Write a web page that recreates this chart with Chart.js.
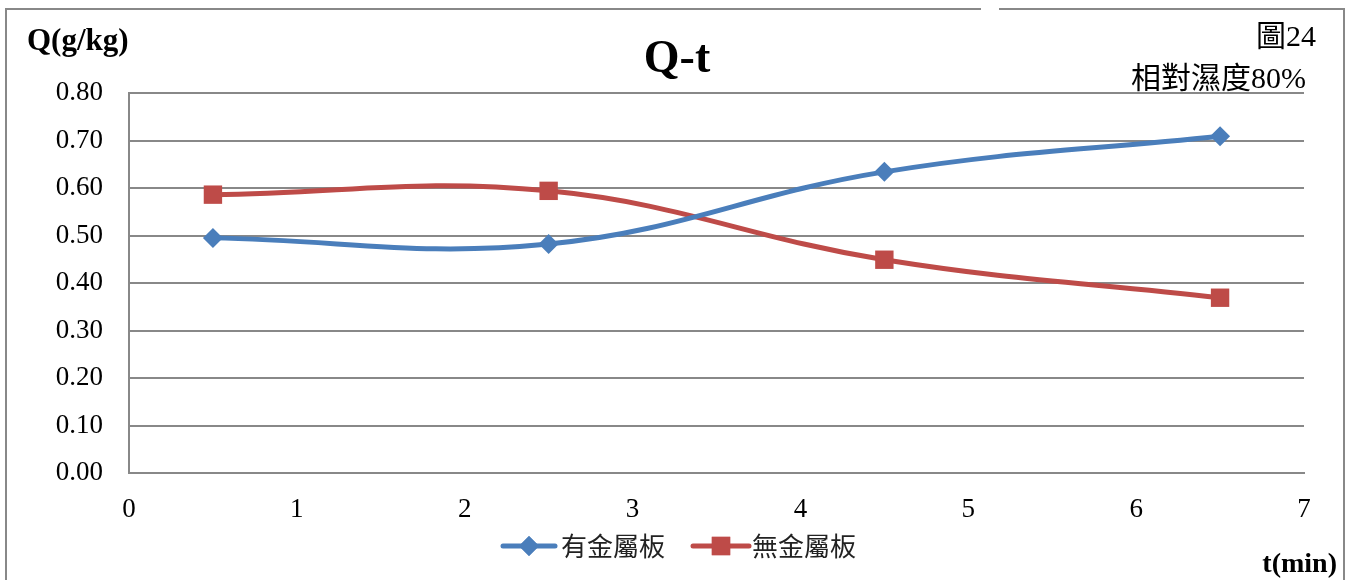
<!DOCTYPE html>
<html>
<head>
<meta charset="utf-8">
<script src="https://cdn.jsdelivr.net/npm/chart.js@4"></script>
<style>
  html, body { margin: 0; padding: 0; background: #fff; }
  #wrap { width: 1353px; height: 580px; }
</style>
</head>
<body>
<div id="wrap"><canvas id="grafico"></canvas></div>
<script>
// dados
const tempos = [0.5, 2.5, 4.5, 6.5];
const comPlaca = [0.495, 0.482, 0.634, 0.709];
const semPlaca = [0.586, 0.594, 0.449, 0.369];
const nomesSeries = ['有金屬板', '無金屬板'];
const yTicks = [0, 0.1, 0.2, 0.3, 0.4, 0.5, 0.6, 0.7, 0.8];
const xTicks = [0, 1, 2, 3, 4, 5, 6, 7];

const titulo = 'Q-t';
const tituloY = 'Q(g/kg)';
const tituloX = 't(min)';
const figura = '圖24';
const umidade = '相對濕度80%';

const azul = '#4A7EBB';
const vermelho = '#BE4B48';
const cinza = '#888888';
const serif = '"Liberation Serif", "Noto Sans CJK TC", serif';
const cjk = '"Liberation Serif", "Noto Sans CJK TC", sans-serif';

const pontos = (xs, ys) => xs.map((x, i) => ({ x: x, y: ys[i] }));

// textos, moldura e legenda desenhados por cima
const extras = {
  id: 'extras',
  afterDraw(chart) {
    const ctx = chart.ctx;
    ctx.save();

    // moldura
    ctx.strokeStyle = cinza;
    ctx.lineWidth = 2;
    ctx.beginPath();
    ctx.moveTo(981, 9);
    ctx.lineTo(6, 9);
    ctx.lineTo(6, 590);
    ctx.moveTo(999, 9);
    ctx.lineTo(1344, 9);
    ctx.lineTo(1344, 590);
    ctx.stroke();

    ctx.fillStyle = '#000';
    ctx.textBaseline = 'middle';

    ctx.font = 'bold 46px ' + serif;
    ctx.textAlign = 'center';
    ctx.fillText(titulo, 677, 60);

    ctx.font = 'bold 31px ' + serif;
    ctx.textAlign = 'left';
    ctx.fillText(tituloY, 27, 42);

    ctx.font = 'bold 28px ' + serif;
    ctx.textAlign = 'right';
    ctx.fillText(tituloX, 1337, 565);

    ctx.font = '30px ' + cjk;
    ctx.fillText(figura, 1316, 38);
    ctx.fillText(umidade, 1306, 80);

    // legenda: linha + marcador + texto
    const itens = [
      { x0: 503, x1: 555, tx: 561 },
      { x0: 693, x1: 749, tx: 752 }
    ];
    chart.data.datasets.forEach((ds, i) => {
      const it = itens[i];
      const y = 546;
      ctx.strokeStyle = ds.borderColor;
      ctx.lineWidth = 5;
      ctx.lineCap = 'round';
      ctx.beginPath();
      ctx.moveTo(it.x0, y);
      ctx.lineTo(it.x1, y);
      ctx.stroke();
      ctx.fillStyle = ds.backgroundColor;
      Chart.helpers.drawPoint(ctx, {
        pointStyle: ds.pointStyle,
        radius: ds.pointRadius,
        borderWidth: 0,
        rotation: 0
      }, (it.x0 + it.x1) / 2, y);
      ctx.fill();
      ctx.fillStyle = '#222';
      ctx.textAlign = 'left';
      ctx.font = '26px "Noto Sans CJK TC", sans-serif';
      ctx.fillText(ds.label, it.tx, y);
    });

    ctx.restore();
  }
};

new Chart(document.getElementById('grafico'), {
  type: 'scatter',
  data: {
    datasets: [
      {
        label: nomesSeries[0],
        data: pontos(tempos, comPlaca),
        showLine: true,
        tension: 0.4,
        borderColor: azul,
        backgroundColor: azul,
        borderWidth: 5,
        pointStyle: 'rectRot',
        pointRadius: 10,
        pointHoverRadius: 10,
        pointBorderWidth: 0
      },
      {
        label: nomesSeries[1],
        data: pontos(tempos, semPlaca),
        showLine: true,
        tension: 0.4,
        borderColor: vermelho,
        backgroundColor: vermelho,
        borderWidth: 5,
        pointStyle: 'rect',
        pointRadius: 13,
        pointHoverRadius: 13,
        pointBorderWidth: 0
      }
    ]
  },
  options: {
    responsive: true,
    maintainAspectRatio: false,
    animation: false,
    layout: { padding: { left: 0, top: 93, right: 49, bottom: 0 } },
    plugins: {
      legend: { display: false },
      tooltip: { enabled: false }
    },
    scales: {
      x: {
        type: 'linear',
        min: 0,
        max: 7,
        afterFit: s => { s.height = 107; },
        afterBuildTicks: s => { s.ticks = xTicks.map(v => ({ value: v })); },
        grid: { display: false, drawTicks: false },
        border: { display: true, color: cinza, width: 2 },
        ticks: {
          padding: 21,
          color: '#000',
          font: { family: serif, size: 27 },
          callback: v => String(v)
        }
      },
      y: {
        min: 0,
        max: 0.8,
        afterFit: s => { s.width = 129; },
        afterBuildTicks: s => { s.ticks = yTicks.map(v => ({ value: v })); },
        grid: { color: cinza, lineWidth: 2, drawTicks: false },
        border: { display: true, color: cinza, width: 2 },
        ticks: {
          padding: 26,
          color: '#000',
          font: { family: serif, size: 27 },
          callback: v => v.toFixed(2)
        }
      }
    }
  },
  plugins: [extras]
});
</script>
</body>
</html>
